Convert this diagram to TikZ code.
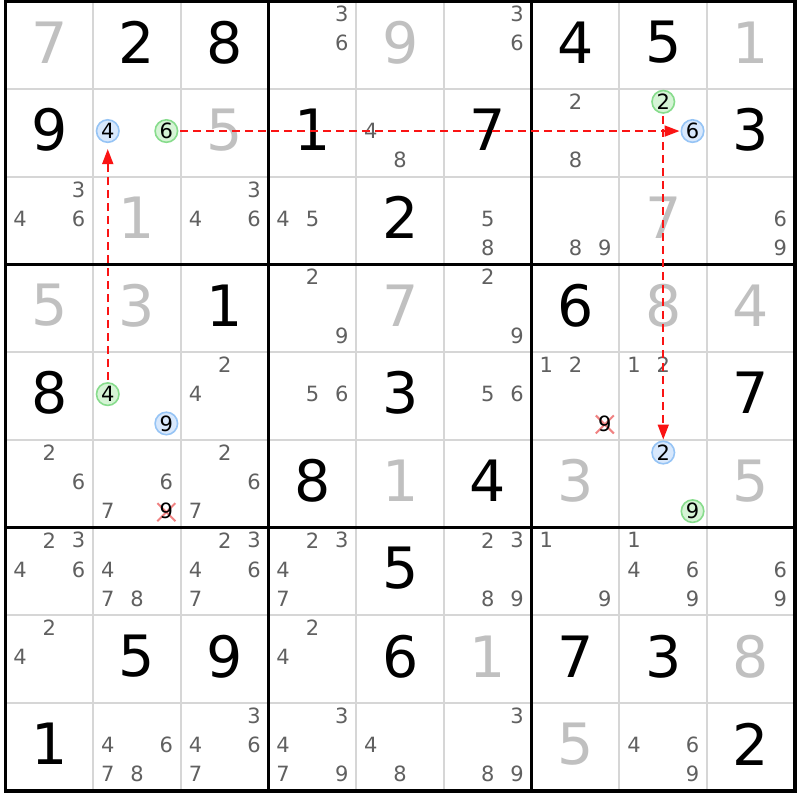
\documentclass[tikz,border=0pt]{standalone}
\usepackage{fontspec}
\setmainfont{DejaVu Sans}
\usetikzlibrary{arrows.meta}
\definecolor{solvedcol}{RGB}{192,192,192}
\definecolor{candcol}{RGB}{96,96,96}
\definecolor{thincol}{RGB}{214,214,214}
\definecolor{bluefill}{RGB}{216,232,252}
\definecolor{blueline}{RGB}{150,196,245}
\definecolor{greenfill}{RGB}{214,244,214}
\definecolor{greenline}{RGB}{135,220,140}
\definecolor{linkred}{RGB}{250,20,20}
\definecolor{crossred}{RGB}{240,130,130}
\tikzset{
 given/.style={font=\fontsize{57}{57}\selectfont, text=black, inner sep=0pt},
 solved/.style={given, text=solvedcol},
 cand/.style={font=\fontsize{21}{21}\selectfont, text=candcol, inner sep=0pt},
 bluecirc/.style={cand, text=black, circle, draw=blueline, fill=bluefill, line width=1.6pt, minimum size=22.5pt},
 greencirc/.style={bluecirc, draw=greenline, fill=greenfill},
 crossed/.style={cand, text=black},
 xmark/.style={draw=crossred, line width=2pt},
 link/.style={draw=linkred, line width=1.8pt, dash pattern=on 8pt off 5pt, -{Triangle[length=15pt,width=11pt]}},
 thinline/.style={draw=thincol, line width=2pt},
 thickline/.style={draw=black, line width=3.4pt},
}
\def\gx{5.5}
\def\gy{1.5}
\def\cs{87.7}
\def\pc{29.3}
\begin{document}
\begin{tikzpicture}[x=1pt,y=-1pt]
\useasboundingbox[fill=white] (0,0) rectangle (800,800);
% thin grid lines
\foreach \i in {1,2,4,5,7,8} {
  \draw[thinline] ({\gx+\i*\cs},{\gy}) -- ({\gx+\i*\cs},{\gy+9*\cs});
  \draw[thinline] ({\gx},{\gy+\i*\cs}) -- ({\gx+9*\cs},{\gy+\i*\cs});
}
% givens
\foreach \r/\c/\d in {1/2/2,1/3/8,1/7/4,1/8/5,2/1/9,2/4/1,2/6/7,2/9/3,3/5/2,4/3/1,4/7/6,5/1/8,5/5/3,5/9/7,6/4/8,6/6/4,7/5/5,8/2/5,8/3/9,8/5/6,8/7/7,8/8/3,9/1/1,9/9/2} {
  \node[given] (g-\r-\c) at ({\gx+(\c-0.5)*\cs},{\gy+(\r-0.5)*\cs-3}) {\d};
}
% solved
\foreach \r/\c/\d in {1/1/7,1/5/9,1/9/1,2/3/5,3/2/1,3/8/7,4/1/5,4/2/3,4/5/7,4/8/8,4/9/4,6/5/1,6/7/3,6/9/5,8/6/1,8/9/8,9/7/5} {
  \node[solved] (s-\r-\c) at ({\gx+(\c-0.5)*\cs},{\gy+(\r-0.5)*\cs-3}) {\d};
}
% candidates
\foreach \r/\c/\k in {1/4/3,1/4/6,1/6/3,1/6/6,
 2/5/4,2/5/8,2/7/2,2/7/8,
 3/1/3,3/1/4,3/1/6,3/3/3,3/3/4,3/3/6,3/4/4,3/4/5,3/6/5,3/6/8,3/7/8,3/7/9,3/9/6,3/9/9,
 4/4/2,4/4/9,4/6/2,4/6/9,
 5/3/2,5/3/4,5/4/5,5/4/6,5/6/5,5/6/6,5/7/1,5/7/2,5/8/1,5/8/2,
 6/1/2,6/1/6,6/2/6,6/2/7,6/3/2,6/3/6,6/3/7,
 7/1/2,7/1/3,7/1/4,7/1/6,7/2/4,7/2/7,7/2/8,7/3/2,7/3/3,7/3/4,7/3/6,7/3/7,
 7/4/2,7/4/3,7/4/4,7/4/7,7/6/2,7/6/3,7/6/8,7/6/9,7/7/1,7/7/9,7/8/1,7/8/4,7/8/6,7/8/9,7/9/6,7/9/9,
 8/1/2,8/1/4,8/4/2,8/4/4,
 9/2/4,9/2/6,9/2/7,9/2/8,9/3/3,9/3/4,9/3/6,9/3/7,9/4/3,9/4/4,9/4/7,9/4/9,9/5/4,9/5/8,9/6/3,9/6/8,9/6/9,9/8/4,9/8/6,9/8/9} {
  \pgfmathsetmacro\kx{mod(\k-1,3)-1}
  \pgfmathsetmacro\ky{floor((\k-1)/3)-1}
  \node[cand] (c-\r-\c-\k) at ({\gx+(\c-0.5)*\cs+\kx*\pc},{\gy+(\r-0.5)*\cs+\ky*\pc-2}) {\k};
}
% crossed candidates
\foreach \r/\c/\k in {5/7/9,6/2/9} {
  \pgfmathsetmacro\kx{mod(\k-1,3)-1}
  \pgfmathsetmacro\ky{floor((\k-1)/3)-1}
  \coordinate (xc-\r-\c-\k) at ({\gx+(\c-0.5)*\cs+\kx*\pc},{\gy+(\r-0.5)*\cs+\ky*\pc-2});
  \draw[xmark] ([shift={(-9,-8)}]xc-\r-\c-\k) -- ([shift={(9,10)}]xc-\r-\c-\k);
  \draw[xmark] ([shift={(9,-8)}]xc-\r-\c-\k) -- ([shift={(-9,10)}]xc-\r-\c-\k);
  \node[crossed] (x-\r-\c-\k) at (xc-\r-\c-\k) {\k};
}
% circled candidates
\foreach \r/\c/\k in {2/2/4,2/8/6,5/2/9,6/8/2} {
  \pgfmathsetmacro\kx{mod(\k-1,3)-1}
  \pgfmathsetmacro\ky{floor((\k-1)/3)-1}
  \node[bluecirc] (b-\r-\c-\k) at ({\gx+(\c-0.5)*\cs+\kx*\pc},{\gy+(\r-0.5)*\cs+\ky*\pc-2}) {\k};
}
\foreach \r/\c/\k in {2/2/6,2/8/2,5/2/4,6/8/9} {
  \pgfmathsetmacro\kx{mod(\k-1,3)-1}
  \pgfmathsetmacro\ky{floor((\k-1)/3)-1}
  \node[greencirc] (e-\r-\c-\k) at ({\gx+(\c-0.5)*\cs+\kx*\pc},{\gy+(\r-0.5)*\cs+\ky*\pc-2}) {\k};
}
% thick grid lines
\foreach \i in {3,6} {
  \draw[thickline] ({\gx+\i*\cs},{\gy}) -- ({\gx+\i*\cs},{\gy+9*\cs});
  \draw[thickline] ({\gx},{\gy+\i*\cs}) -- ({\gx+9*\cs},{\gy+\i*\cs});
}
\draw[thickline] ({\gx},{\gy}) rectangle ({\gx+9*\cs},{\gy+9*\cs});
% links
\draw[link, shorten <=2pt, shorten >=6pt] (e-5-2-4) -- (b-2-2-4);
\draw[link, shorten <=2pt, shorten >=1pt] (e-2-2-6) -- (b-2-8-6);
\draw[link, shorten <=2pt, shorten >=1pt] (e-2-8-2) -- (b-6-8-2);
\end{tikzpicture}
\end{document}
